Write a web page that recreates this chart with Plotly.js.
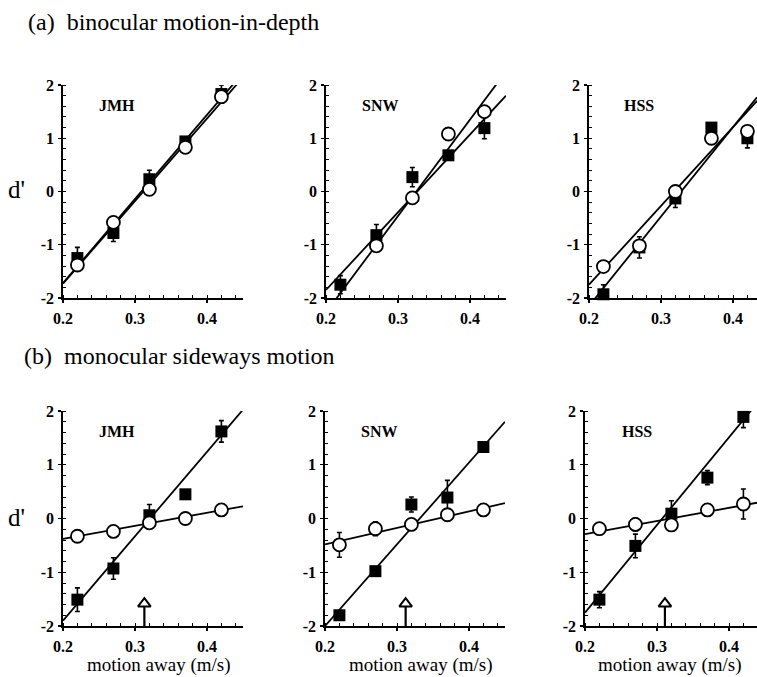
<!DOCTYPE html>
<html><head><meta charset="utf-8">
<script src="https://cdn.plot.ly/plotly-3.0.1.min.js"></script>
<style>html,body{margin:0;padding:0;background:#fff}#chart{width:757px;height:677px}</style>
</head><body><div id="chart"></div>
<script>
// ---- data ----
const speeds = [0.22, 0.27, 0.32, 0.37, 0.42];
const subjects = ['JMH', 'SNW', 'HSS'];
const xTickVals = [0.2, 0.3, 0.4];
const xTickText = ['0.2', '0.3', '0.4'];
const yTickVals = [-2, -1, 0, 1, 2];
const yTickText = ['-2', '-1', '0', '1', '2'];
const xTitle = 'motion away (m/s)';

// (a) binocular motion-in-depth : filled squares / open circles
const binoJMH_sq = [-1.25, -0.78, 0.23, 0.94, 1.83];
const binoJMH_sqErr = [0.2, 0.16, 0.17, 0.06, 0.17];
const binoJMH_ci = [-1.38, -0.58, 0.04, 0.83, 1.78];
const binoSNW_sq = [-1.75, -0.82, 0.27, 0.68, 1.19];
const binoSNW_sqErr = [0.17, 0.2, 0.18, 0.05, 0.2];
const binoSNW_ci = [-2.08, -1.02, -0.12, 1.08, 1.50];
const binoHSS_sq = [-1.93, -1.05, -0.13, 1.20, 1.00];
const binoHSS_sqErr = [0.18, 0.2, 0.17, 0.05, 0.18];
const binoHSS_ci = [-1.41, -1.02, 0.00, 1.00, 1.13];

// (b) monocular sideways motion
const monoJMH_sq = [-1.51, -0.93, 0.06, 0.45, 1.62];
const monoJMH_sqErr = [0.22, 0.2, 0.2, 0.05, 0.2];
const monoJMH_ci = [-0.33, -0.24, -0.08, 0.00, 0.16];
const monoJMH_ciErr = [0, 0, 0, 0, 0];
const monoSNW_sq = [-1.80, -0.98, 0.26, 0.39, 1.33];
const monoSNW_sqErr = [0.05, 0.05, 0.14, 0.32, 0.08];
const monoSNW_ci = [-0.49, -0.19, -0.11, 0.07, 0.16];
const monoSNW_ciErr = [0.23, 0.13, 0, 0, 0];
const monoHSS_sq = [-1.51, -0.51, 0.09, 0.76, 1.89];
const monoHSS_sqErr = [0.15, 0.22, 0.24, 0.13, 0.2];
const monoHSS_ci = [-0.19, -0.11, -0.12, 0.16, 0.27];
const monoHSS_ciErr = [0, 0.12, 0, 0, 0.28];

// fitted lines: value at 0.2 m/s and slope (d' per m/s)
const binoFitSq_at02 = [-1.72, -1.85, -2.15];
const binoFitSq_slope = [15.8, 14.6, 16.8];
const binoFitCi_at02 = [-1.73, -2.27, -1.75];
const binoFitCi_slope = [15.5, 18.1, 14.8];
const monoFitSq_at02 = [-1.90, -2.00, -1.75];
const monoFitSq_slope = [15.7, 15.2, 16.3];
const monoFitCi_at02 = [-0.38, -0.48, -0.29];
const monoFitCi_slope = [2.43, 3.06, 2.44];

// threshold arrows (m/s) in panel (b)
const thresholdSpeed = [0.313, 0.312, 0.311];

// ---- build ----
const W = 757, H = 677;
const FONT = 'Liberation Serif';
const panels = [
  {sq: binoJMH_sq, sqE: binoJMH_sqErr, ci: binoJMH_ci, ciE: null, fs: [binoFitSq_at02[0], binoFitSq_slope[0]], fc: [binoFitCi_at02[0], binoFitCi_slope[0]], px: [63, 243], py: [85, 298], xmax: 0.45},
  {sq: binoSNW_sq, sqE: binoSNW_sqErr, ci: binoSNW_ci, ciE: null, fs: [binoFitSq_at02[1], binoFitSq_slope[1]], fc: [binoFitCi_at02[1], binoFitCi_slope[1]], px: [326, 506], py: [85, 298], xmax: 0.45},
  {sq: binoHSS_sq, sqE: binoHSS_sqErr, ci: binoHSS_ci, ciE: null, fs: [binoFitSq_at02[2], binoFitSq_slope[2]], fc: [binoFitCi_at02[2], binoFitCi_slope[2]], px: [589, 757], py: [85, 298], xmax: 0.2 + 168/720},
  {sq: monoJMH_sq, sqE: monoJMH_sqErr, ci: monoJMH_ci, ciE: monoJMH_ciErr, fs: [monoFitSq_at02[0], monoFitSq_slope[0]], fc: [monoFitCi_at02[0], monoFitCi_slope[0]], px: [63, 243], py: [411, 626], xmax: 0.45, arrow: thresholdSpeed[0], titleX: 159},
  {sq: monoSNW_sq, sqE: monoSNW_sqErr, ci: monoSNW_ci, ciE: monoSNW_ciErr, fs: [monoFitSq_at02[1], monoFitSq_slope[1]], fc: [monoFitCi_at02[1], monoFitCi_slope[1]], px: [325, 505], py: [411, 626], xmax: 0.45, arrow: thresholdSpeed[1], titleX: 421},
  {sq: monoHSS_sq, sqE: monoHSS_sqErr, ci: monoHSS_ci, ciE: monoHSS_ciErr, fs: [monoFitSq_at02[2], monoFitSq_slope[2]], fc: [monoFitCi_at02[2], monoFitCi_slope[2]], px: [585, 757], py: [411, 626], xmax: 0.2 + 172/720, arrow: thresholdSpeed[2], titleX: 670}
];

const traces = [];
const layout = {
  width: W, height: H, margin: {l: 0, r: 0, t: 0, b: 0},
  paper_bgcolor: '#fff', plot_bgcolor: 'rgba(0,0,0,0)', showlegend: false,
  font: {family: FONT, color: '#000', size: 16},
  annotations: []
};
const tickFont = {family: FONT, size: 16, color: '#000', weight: 'bold'};

panels.forEach((p, i) => {
  const n = i + 1;
  const xa = 'x' + (n === 1 ? '' : n), ya = 'y' + (n === 1 ? '' : n);
  const xk = 'xaxis' + (n === 1 ? '' : n), yk = 'yaxis' + (n === 1 ? '' : n);
  const lineX = [0.2, p.xmax];
  [p.fs, p.fc].forEach(f => {
    traces.push({type: 'scatter', mode: 'lines', x: lineX, y: lineX.map(x => f[0] + f[1] * (x - 0.2)),
      xaxis: xa, yaxis: ya, line: {color: '#000', width: 1.8}, hoverinfo: 'skip'});
  });
  traces.push({type: 'scatter', mode: 'markers', x: speeds, y: p.sq, xaxis: xa, yaxis: ya, cliponaxis: false,
    marker: {symbol: 'square', size: 12, color: '#000'},
    error_y: {type: 'data', array: p.sqE, visible: true, color: '#000', thickness: 1.6, width: 2.5}});
  const ciTrace = {type: 'scatter', mode: 'markers', x: speeds, y: p.ci, xaxis: xa, yaxis: ya, cliponaxis: false,
    marker: {symbol: 'circle', size: 13, color: '#fff', line: {color: '#000', width: 1.8}}};
  if (p.ciE) ciTrace.error_y = {type: 'data', array: p.ciE, visible: true, color: '#000', thickness: 1.6, width: 2.5};
  traces.push(ciTrace);
  if (p.arrow !== undefined) {
    traces.push({type: 'scatter', mode: 'lines', x: [p.arrow, p.arrow], y: [-2, -1.64], xaxis: xa, yaxis: ya,
      cliponaxis: false, line: {color: '#000', width: 2.2}});
    traces.push({type: 'scatter', mode: 'markers', x: [p.arrow], y: [-1.585], xaxis: xa, yaxis: ya, cliponaxis: false,
      marker: {symbol: 'triangle-up-open', size: 11, color: '#000', line: {width: 2}}});
  }
  layout[xk] = {
    domain: [p.px[0] / W, p.px[1] / W], range: [0.2, p.xmax], anchor: ya,
    showline: true, linecolor: '#000', linewidth: 1.8, showgrid: false, zeroline: false,
    tickvals: xTickVals, ticktext: xTickText, ticks: 'outside', ticklen: 3, tickwidth: 1.3, tickcolor: '#000',
    ticklabelstandoff: 2,
    minor: {ticks: 'inside', ticklen: 3, dtick: 0.02, tick0: 0.2, tickcolor: '#000', tickwidth: 1},
    tickfont: tickFont
  };
  if (p.titleX !== undefined) {
    layout.annotations.push({text: xTitle, xref: 'paper', yref: 'paper', x: p.titleX / W, y: 0,
      xanchor: 'center', yanchor: 'bottom', showarrow: false, borderpad: 0, font: {family: FONT, size: 19, color: '#000'}});
  }
  layout[yk] = {
    domain: [1 - p.py[1] / H, 1 - p.py[0] / H], range: [-2, 2], anchor: xa,
    showline: true, linecolor: '#000', linewidth: 1.8, showgrid: false, zeroline: false,
    tickvals: yTickVals, ticktext: yTickText, ticks: 'outside', ticklen: 3, tickwidth: 1.3, tickcolor: '#000',
    ticklabelstandoff: 1,
    minor: {ticks: 'inside', ticklen: 3, dtick: 0.2, tick0: 0, tickcolor: '#000', tickwidth: 1},
    tickfont: tickFont
  };
  layout.annotations.push({text: subjects[i % 3], xref: xa + ' domain', yref: ya + ' domain', x: 0.3, y: 0.905,
    xanchor: 'center', yanchor: 'middle', showarrow: false, font: {family: FONT, size: 16, color: '#000', weight: 'bold'}});
});

layout.annotations.push(
  {text: '(a)  binocular motion-in-depth', xref: 'paper', yref: 'paper', x: 26 / W, y: 1 - 22 / H, xanchor: 'left', yanchor: 'middle', showarrow: false, font: {family: FONT, size: 24, color: '#000'}},
  {text: '(b)  monocular sideways motion', xref: 'paper', yref: 'paper', x: 22 / W, y: 1 - 356 / H, xanchor: 'left', yanchor: 'middle', showarrow: false, font: {family: FONT, size: 24, color: '#000'}},
  {text: "d'", xref: 'paper', yref: 'paper', x: 16 / W, y: 1 - 190 / H, xanchor: 'center', yanchor: 'middle', showarrow: false, font: {family: FONT, size: 25, color: '#000'}},
  {text: "d'", xref: 'paper', yref: 'paper', x: 16 / W, y: 1 - 517 / H, xanchor: 'center', yanchor: 'middle', showarrow: false, font: {family: FONT, size: 25, color: '#000'}}
);

Plotly.newPlot('chart', traces, layout, {staticPlot: true, displayModeBar: false});
</script>
</body></html>
